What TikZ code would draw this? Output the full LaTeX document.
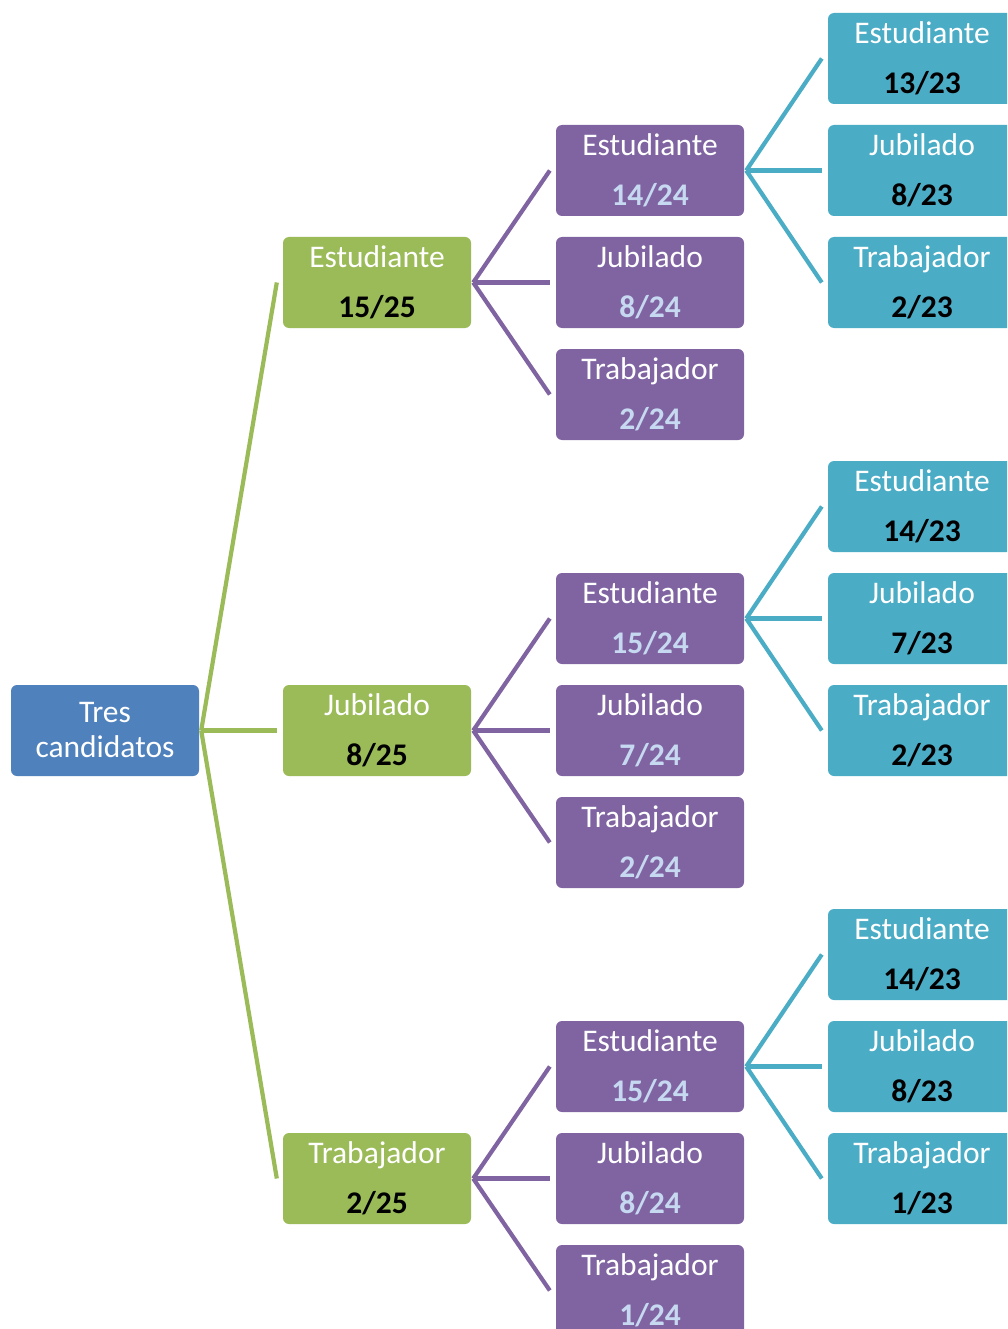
\documentclass[tikz,border=0pt]{standalone}
\usepackage{fontspec}
\setmainfont{Carlito}
\definecolor{cblue}{HTML}{4F81BD}
\definecolor{cgreen}{HTML}{9BBB59}
\definecolor{cpurple}{HTML}{8064A2}
\definecolor{cteal}{HTML}{4BACC6}
\definecolor{clight}{HTML}{C6D9F1}
\tikzset{
  box/.style={rounded corners=6pt, minimum width=188pt, minimum height=91pt, inner sep=0pt, draw=none},
  lone/.style={anchor=base, font=\fontsize{31.5}{36}\selectfont, text=white, inner sep=0pt},
  ltwo/.style={anchor=base, font=\fontsize{31.5}{36}\selectfont\bfseries, inner sep=0pt},
  conn/.style={line width=4.2pt},
}
\newcommand\tbox[6]{%
  \node[box,fill=#3] (#1) at #2 {};
  \node[lone] (#1-a) at ([yshift=14.8pt]#1.center) {#5};
  \node[ltwo,text=#4] (#1-b) at ([yshift=-35.2pt]#1.center) {#6};
}
\newcommand\edge[3]{\draw[conn,#1] ([xshift=2pt]#2.east) -- ([xshift=-6pt]#3.west);}
\begin{document}
\begin{tikzpicture}[x=1pt,y=-1pt]
\useasboundingbox (0,0) rectangle (1007,1329);
\clip (0,0) rectangle (1007,1329);
% root
\node[box,fill=cblue] (root) at (105,730.5) {};
\node[lone] (root-a) at ([yshift=7.7pt]root.center) {Tres};
\node[lone] (root-b) at ([yshift=-27.3pt]root.center) {candidatos};
% level 1
\tbox{g1}{(377,282.5)}{cgreen}{black}{Estudiante}{15/25}
\tbox{g2}{(377,730.5)}{cgreen}{black}{Jubilado}{8/25}
\tbox{g3}{(377,1178.5)}{cgreen}{black}{Trabajador}{2/25}
% level 2
\tbox{p1a}{(650,170.5)}{cpurple}{clight}{Estudiante}{14/24}
\tbox{p1b}{(650,282.5)}{cpurple}{clight}{Jubilado}{8/24}
\tbox{p1c}{(650,394.5)}{cpurple}{clight}{Trabajador}{2/24}
\tbox{p2a}{(650,618.5)}{cpurple}{clight}{Estudiante}{15/24}
\tbox{p2b}{(650,730.5)}{cpurple}{clight}{Jubilado}{7/24}
\tbox{p2c}{(650,842.5)}{cpurple}{clight}{Trabajador}{2/24}
\tbox{p3a}{(650,1066.5)}{cpurple}{clight}{Estudiante}{15/24}
\tbox{p3b}{(650,1178.5)}{cpurple}{clight}{Jubilado}{8/24}
\tbox{p3c}{(650,1290.5)}{cpurple}{clight}{Trabajador}{1/24}
% level 3
\tbox{t1a}{(922,58.5)}{cteal}{black}{Estudiante}{13/23}
\tbox{t1b}{(922,170.5)}{cteal}{black}{Jubilado}{8/23}
\tbox{t1c}{(922,282.5)}{cteal}{black}{Trabajador}{2/23}
\tbox{t2a}{(922,506.5)}{cteal}{black}{Estudiante}{14/23}
\tbox{t2b}{(922,618.5)}{cteal}{black}{Jubilado}{7/23}
\tbox{t2c}{(922,730.5)}{cteal}{black}{Trabajador}{2/23}
\tbox{t3a}{(922,954.5)}{cteal}{black}{Estudiante}{14/23}
\tbox{t3b}{(922,1066.5)}{cteal}{black}{Jubilado}{8/23}
\tbox{t3c}{(922,1178.5)}{cteal}{black}{Trabajador}{1/23}
% connectors
\edge{cgreen}{root}{g1}
\edge{cgreen}{root}{g2}
\edge{cgreen}{root}{g3}
\edge{cpurple}{g1}{p1a}
\edge{cpurple}{g1}{p1b}
\edge{cpurple}{g1}{p1c}
\edge{cpurple}{g2}{p2a}
\edge{cpurple}{g2}{p2b}
\edge{cpurple}{g2}{p2c}
\edge{cpurple}{g3}{p3a}
\edge{cpurple}{g3}{p3b}
\edge{cpurple}{g3}{p3c}
\edge{cteal}{p1a}{t1a}
\edge{cteal}{p1a}{t1b}
\edge{cteal}{p1a}{t1c}
\edge{cteal}{p2a}{t2a}
\edge{cteal}{p2a}{t2b}
\edge{cteal}{p2a}{t2c}
\edge{cteal}{p3a}{t3a}
\edge{cteal}{p3a}{t3b}
\edge{cteal}{p3a}{t3c}
\end{tikzpicture}
\end{document}
